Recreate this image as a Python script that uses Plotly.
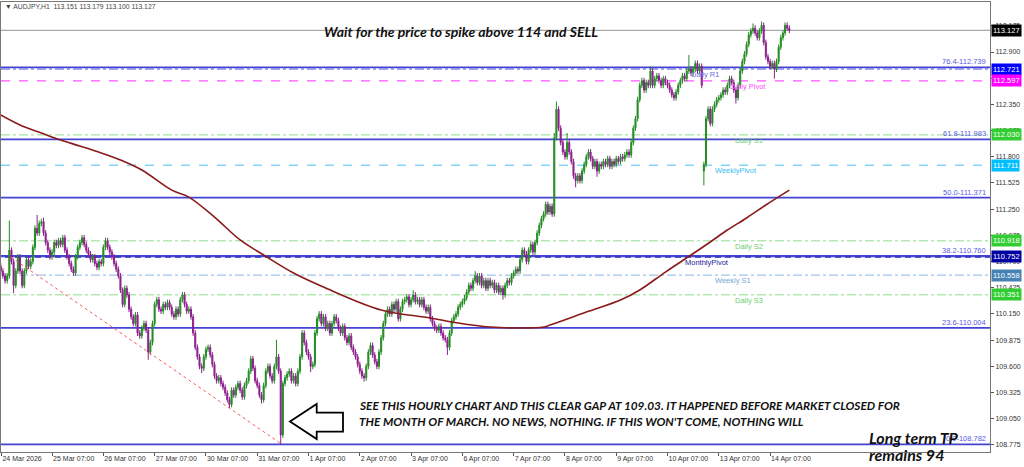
import plotly.graph_objects as go

# ---------------- data ----------------
# hourly closes, one row per trading day (bar index 0 = 24 Mar 07:00)
close = [
    110.60, 110.55, 110.50, 110.55, 110.82, 110.70, 110.45, 110.60, 110.75, 110.60, 110.45, 110.60, 110.72, 110.65, 110.70, 110.85, 111.05, 111.00, 111.10, 111.12, 111.00, 110.90, 110.82, 110.75,
    110.80, 110.90, 110.87, 110.92, 110.88, 110.95, 110.82, 110.75, 110.68, 110.62, 110.58, 110.75, 110.85, 110.90, 110.95, 110.88, 110.82, 110.78, 110.72, 110.75, 110.68, 110.64, 110.70, 110.68,
    110.85, 110.92, 110.85, 110.80, 110.75, 110.68, 110.62, 110.55, 110.40, 110.25, 110.42, 110.35, 110.20, 110.12, 110.05, 110.14, 109.95, 109.92, 110.00, 110.05, 109.98, 109.75, 109.85, 110.05,
    110.25, 110.30, 110.20, 110.18, 110.25, 110.22, 110.27, 110.22, 110.15, 110.12, 110.20, 110.15, 110.30, 110.35, 110.25, 110.18, 110.20, 110.12, 109.95, 109.80, 109.70, 109.60, 109.58, 109.70,
    109.78, 109.80, 109.72, 109.62, 109.50, 109.45, 109.48, 109.42, 109.38, 109.32, 109.25, 109.20, 109.35, 109.30, 109.38, 109.42, 109.35, 109.28, 109.40, 109.45, 109.55, 109.68, 109.58, 109.45,
    109.40, 109.30, 109.25, 109.40, 109.55, 109.60, 109.50, 109.45, 109.60, 109.70, 109.55, 108.88, 109.42, 109.48, 109.52, 109.55, 109.45, 109.50, 109.42, 109.55, 109.70, 109.95, 109.85, 109.75,
    109.70, 109.60, 109.62, 109.95, 110.10, 110.15, 110.05, 110.12, 110.00, 110.05, 109.95, 110.05, 110.12, 110.08, 110.00, 109.95, 110.02, 109.90, 109.85, 109.92, 109.80, 109.75, 109.70, 109.62,
    109.55, 109.50, 109.48, 109.60, 109.75, 109.82, 109.72, 109.65, 109.60, 109.75, 109.90, 110.05, 110.15, 110.20, 110.15, 110.25, 110.20, 110.28, 110.10, 110.20, 110.28, 110.30, 110.33, 110.25,
    110.30, 110.35, 110.28, 110.30, 110.25, 110.30, 110.22, 110.18, 110.22, 110.10, 110.05, 110.00, 109.98, 110.02, 109.95, 109.90, 109.88, 109.80, 109.95, 110.08, 110.12, 110.15, 110.22, 110.25,
    110.28, 110.32, 110.38, 110.45, 110.42, 110.50, 110.55, 110.48, 110.55, 110.45, 110.50, 110.42, 110.50, 110.45, 110.48, 110.40, 110.45, 110.38, 110.42, 110.35, 110.45, 110.50, 110.48, 110.55,
    110.58, 110.62, 110.60, 110.72, 110.82, 110.78, 110.70, 110.82, 110.88, 110.80, 110.90, 111.00, 111.08, 111.15, 111.20, 111.30, 111.22, 111.28, 111.20, 112.00, 112.30, 112.10, 111.95, 111.85,
    111.80, 111.95, 111.85, 111.75, 111.60, 111.55, 111.60, 111.55, 111.65, 111.72, 111.80, 111.85, 111.78, 111.70, 111.75, 111.65, 111.72, 111.70, 111.75, 111.72, 111.78, 111.70, 111.75, 111.72,
    111.78, 111.75, 111.80, 111.78, 111.82, 111.85, 111.82, 111.95, 112.10, 112.20, 112.40, 112.55, 112.60, 112.50, 112.58, 112.55, 112.70, 112.55, 112.62, 112.65, 112.60, 112.55, 112.62, 112.58,
    112.55, 112.50, 112.45, 112.42, 112.48, 112.55, 112.60, 112.65, 112.62, 112.70, 112.72, 112.68, 112.72, 112.78, 112.70, 112.75, 112.55, 111.72, 112.20, 112.30, 112.15, 112.30, 112.35, 112.40,
    112.42, 112.45, 112.50, 112.48, 112.55, 112.62, 112.58, 112.50, 112.42, 112.55, 112.70, 112.80, 112.88, 112.98, 113.08, 113.12, 113.15, 113.10, 113.05, 113.12, 113.18, 113.00, 112.85, 112.80,
    112.75, 112.78, 112.72, 112.80, 112.95, 113.05, 113.10, 113.18, 113.15, 113.127,
]
first_open = 110.65
open_override = {329: 111.65}
high_override = {4: 111.13, 17: 111.19, 20: 111.16, 85: 110.38, 129: 109.88, 141: 109.98,
                 193: 110.40, 222: 110.60, 259: 112.05, 260: 112.38, 265: 112.05, 304: 112.75,
                 322: 112.87, 352: 113.20, 356: 113.22, 367: 113.21}
low_override = {6: 110.37, 34: 110.55, 57: 110.22, 69: 109.67, 94: 109.53, 107: 109.16,
                122: 109.21, 131: 108.782, 145: 109.54, 170: 109.44, 209: 109.72, 235: 110.30,
                269: 111.48, 279: 111.59, 329: 111.50, 344: 112.36, 362: 112.62}
wick = 0.03

# moving average (dark red) sampled along the curve
ma_idx = [0, 9, 19, 28, 37, 47, 56, 66, 80, 88, 100, 112, 123, 137, 151, 178, 201, 214, 229,
          243, 254, 257, 274, 290, 299, 311, 323, 332, 340, 349, 358, 369]
ma_val = [112.239, 112.134, 112.05, 111.976, 111.913, 111.84, 111.766, 111.661, 111.45, 111.377,
          111.167, 110.927, 110.769, 110.58, 110.433, 110.192, 110.108, 110.055, 110.013, 110.003,
          110.013, 110.034, 110.17, 110.297, 110.402, 110.59, 110.769, 110.906, 111.032, 111.158,
          111.294, 111.45]

# red dotted trend line
trend_idx = [4.7, 131]
trend_val = [110.748, 108.79]

# Fibonacci levels
fib_pct = ["76.4", "61.8", "50.0", "38.2", "23.6", "0.0"]
fib_val = [112.739, 111.983, 111.371, 110.760, 110.004, 108.782]

# pivot levels
piv_name = ["Daily R1", "Daily Pivot", "Daily S1", "WeeklyPivot", "Daily S2", "MonthlyPivot", "Weekly S1", "Daily S3"]
piv_val = [112.721, 112.597, 112.030, 111.711, 110.918, 110.752, 110.558, 110.351]
piv_label_idx = [322, 340.5, 342.7, 333.3, 342.7, 319.3, 333.3, 342.7]

# price boxes on the right scale
box_val = [113.127, 112.721, 112.597, 112.030, 111.711, 110.918, 110.752, 110.558, 110.351]
box_col = ["#000000", "#0000ff", "#ff00ff", "#32cd32", "#00bfff", "#32cd32", "#0000a0", "#4682b4", "#32cd32"]

x_tick_idx = [0.3, 24, 48, 72, 96, 120, 144, 168, 192, 216, 240, 264, 288, 312, 336, 360]
x_tick_txt = ["24 Mar 2026", "25 Mar 07:00", "26 Mar 07:00", "27 Mar 07:00", "30 Mar 07:00",
              "31 Mar 07:00", "1 Apr 07:00", "2 Apr 07:00", "3 Apr 07:00", "6 Apr 07:00",
              "7 Apr 07:00", "8 Apr 07:00", "9 Apr 07:00", "10 Apr 07:00", "13 Apr 07:00", "14 Apr 07:00"]
y_tick_val = [108.775, 109.050, 109.325, 109.600, 109.875, 110.150, 110.425, 110.700, 110.975,
              111.250, 111.525, 111.800, 112.075, 112.350, 112.625, 112.900, 113.175]

# ---------------- build OHLC ----------------
n = len(close)
idx = list(range(n))
opens = [first_open] + close[:-1]
for k, v in open_override.items():
    opens[k] = v
highs = [high_override.get(i, max(opens[i], close[i]) + wick) for i in idx]
lows = [low_override.get(i, min(opens[i], close[i]) - wick) for i in idx]

# ---------------- layout geometry ----------------
W, H = 1024, 467
ML, MR, MT, MB = 1, 34, 2, 15
PW, PH = W - ML - MR, H - MT - MB


def px(x):
    return (x - ML) / PW


def py(y):
    return (MT + PH - y) / PH


fig = go.Figure()

fig.add_trace(go.Candlestick(
    x=idx, open=opens, high=highs, low=lows, close=close,
    increasing=dict(line=dict(color="#238c23", width=1), fillcolor="#238c23"),
    decreasing=dict(line=dict(color="#8e1f8e", width=1), fillcolor="#8e1f8e"),
    whiskerwidth=0, showlegend=False, hoverinfo="skip"))

fig.add_trace(go.Scatter(x=ma_idx, y=ma_val, mode="lines", line=dict(color="#8b1a1a", width=1.6, shape="spline"),
                         showlegend=False, hoverinfo="skip"))
fig.add_trace(go.Scatter(x=trend_idx, y=trend_val, mode="lines", line=dict(color="#ff5a5a", width=1, dash="dot"),
                         showlegend=False, hoverinfo="skip"))

shapes = []
# price line
shapes.append(dict(type="line", xref="paper", x0=0, x1=1, yref="y", y0=close[-1], y1=close[-1],
                   line=dict(color="#a8a8a8", width=1.2), layer="below"))
# pivot lines
piv_style = {
    "Daily R1": ("#5c5ce0", "dashdot", 1),
    "Daily Pivot": ("#ff55ff", "dash", 1.2),
    "Daily S1": ("#8fdc8f", "dashdot", 1),
    "WeeklyPivot": ("#87d3f8", "dash", 1.5),
    "Daily S2": ("#8fdc8f", "dashdot", 1),
    "MonthlyPivot": ("#1c1cb4", "solid", 2),
    "Weekly S1": ("#8ab6e0", "dashdot", 1),
    "Daily S3": ("#8fdc8f", "dashdot", 1),
}
for name, val in zip(piv_name, piv_val):
    c, d, w = piv_style[name]
    shapes.append(dict(type="line", xref="paper", x0=0, x1=1, yref="y", y0=val, y1=val,
                       line=dict(color=c, width=w, dash=d), layer="below"))
    if name == "MonthlyPivot":
        shapes.append(dict(type="line", xref="paper", x0=0, x1=1, yref="y", y0=val - 0.006, y1=val - 0.006,
                           line=dict(color="#ffffff", width=1, dash="4px,6px"), layer="below"))
# fib lines
for val in fib_val:
    shapes.append(dict(type="line", xref="paper", x0=0, x1=1, yref="y", y0=val, y1=val,
                       line=dict(color="#4343d4", width=1.8), layer="below"))

# arrow (pixel outline)
arrow_px = [(290, 421.5), (316.7, 404), (316.7, 412.7), (343, 412.7), (343, 431.7), (316.7, 431.7), (316.7, 439)]
path = "M " + " L ".join(f"{px(a):.5f},{py(b):.5f}" for a, b in arrow_px) + " Z"
shapes.append(dict(type="path", xref="paper", yref="paper", path=path,
                   line=dict(color="#000000", width=1.8), fillcolor="#ffffff", layer="above"))

ann = []
lab_font = "Liberation Sans, Arial, sans-serif"
piv_txtcol = {"Daily R1": "#6b6be6", "Daily Pivot": "#ff4cff", "Daily S1": "#6cd06c", "WeeklyPivot": "#38bdf0",
              "Daily S2": "#6cd06c", "MonthlyPivot": "#1a1a9a", "Weekly S1": "#7aa6d6", "Daily S3": "#6cd06c"}
for name, val, li in zip(piv_name, piv_val, piv_label_idx):
    ann.append(dict(x=li, y=val, xref="x", yref="y", text=name, showarrow=False, xanchor="left", yanchor="top",
                    font=dict(family=lab_font, size=7.5, color=piv_txtcol[name]), yshift=1))
for p, val in zip(fib_pct, fib_val):
    ann.append(dict(x=1, y=val, xref="paper", yref="y", text=f"{p}-{val:.3f}", showarrow=False,
                    xanchor="right", yanchor="bottom", xshift=-2, yshift=-1,
                    font=dict(family=lab_font, size=7.5, color="#5a5ae6")))
for val, col in zip(box_val, box_col):
    ann.append(dict(x=1, y=val, xref="paper", yref="y", text=f"{val:.3f}", showarrow=False,
                    xanchor="left", yanchor="middle", xshift=1, bgcolor=col, borderpad=1,
                    font=dict(family=lab_font, size=7.5, color="#ffffff")))

# header and comments
ann.append(dict(x=px(3), y=py(7), xref="paper", yref="paper", text="\u25bc AUDJPY,H1  113.151 113.179 113.100 113.127",
                showarrow=False, xanchor="left", yanchor="middle", font=dict(family=lab_font, size=6.8, color="#444444")))
ann.append(dict(x=px(461), y=py(32), xref="paper", yref="paper",
                text="<b><i>Wait for the price to spike above 114 and SELL</i></b>", showarrow=False,
                xanchor="center", yanchor="middle", font=dict(family="Lato, sans-serif", size=14, color="#111111")))
comment_lines = ["SEE THIS HOURLY CHART AND THIS CLEAR GAP AT 109.03. IT HAPPENED BEFORE MARKET CLOSED FOR",
                 "THE MONTH OF MARCH. NO NEWS, NOTHING. IF THIS WON'T COME, NOTHING WILL"]
for line, yy in zip(comment_lines, [405, 421]):
    ann.append(dict(x=px(357), y=py(yy), xref="paper", yref="paper", text=f"<b><i>{line}</i></b>",
                    showarrow=False, xanchor="left", yanchor="middle",
                    font=dict(family="Lato, sans-serif", size=11.8, color="#111111")))
for line, yy in zip(["Long term TP", "remains 94"], [437, 455]):
    ann.append(dict(x=px(867), y=py(yy), xref="paper", yref="paper", text=f"<b><i>{line}</i></b>",
                    showarrow=False, xanchor="left", yanchor="middle",
                    font=dict(family="Lato, sans-serif", size=16, color="#111111")))

fig.update_layout(
    width=W, height=H, margin=dict(l=ML, r=MR, t=MT, b=MB, autoexpand=False),
    paper_bgcolor="#ffffff", plot_bgcolor="#ffffff",
    shapes=shapes, annotations=ann, showlegend=False,
    xaxis=dict(range=[0.1, 462.9], rangeslider=dict(visible=False), showgrid=False, zeroline=False,
               tickmode="array", tickvals=x_tick_idx, ticktext=x_tick_txt, ticks="outside", ticklen=3,
               tickcolor="#555555", ticklabelposition="outside right",
               tickfont=dict(family=lab_font, size=7, color="#333333"),
               showline=True, linecolor="#777777", linewidth=1, mirror=True, automargin=False),
    yaxis=dict(range=[108.7014, 113.4248], side="right", showgrid=False, zeroline=False,
               tickmode="array", tickvals=y_tick_val, ticktext=[f"{v:.3f}" for v in y_tick_val],
               ticks="outside", ticklen=3, tickcolor="#555555",
               tickfont=dict(family=lab_font, size=7, color="#333333"),
               showline=True, linecolor="#777777", linewidth=1, mirror=True, automargin=False),
)

fig.write_html("out.html", config={"displayModeBar": False},
               post_script="document.body.style.margin='0px';document.body.style.padding='0px';")
